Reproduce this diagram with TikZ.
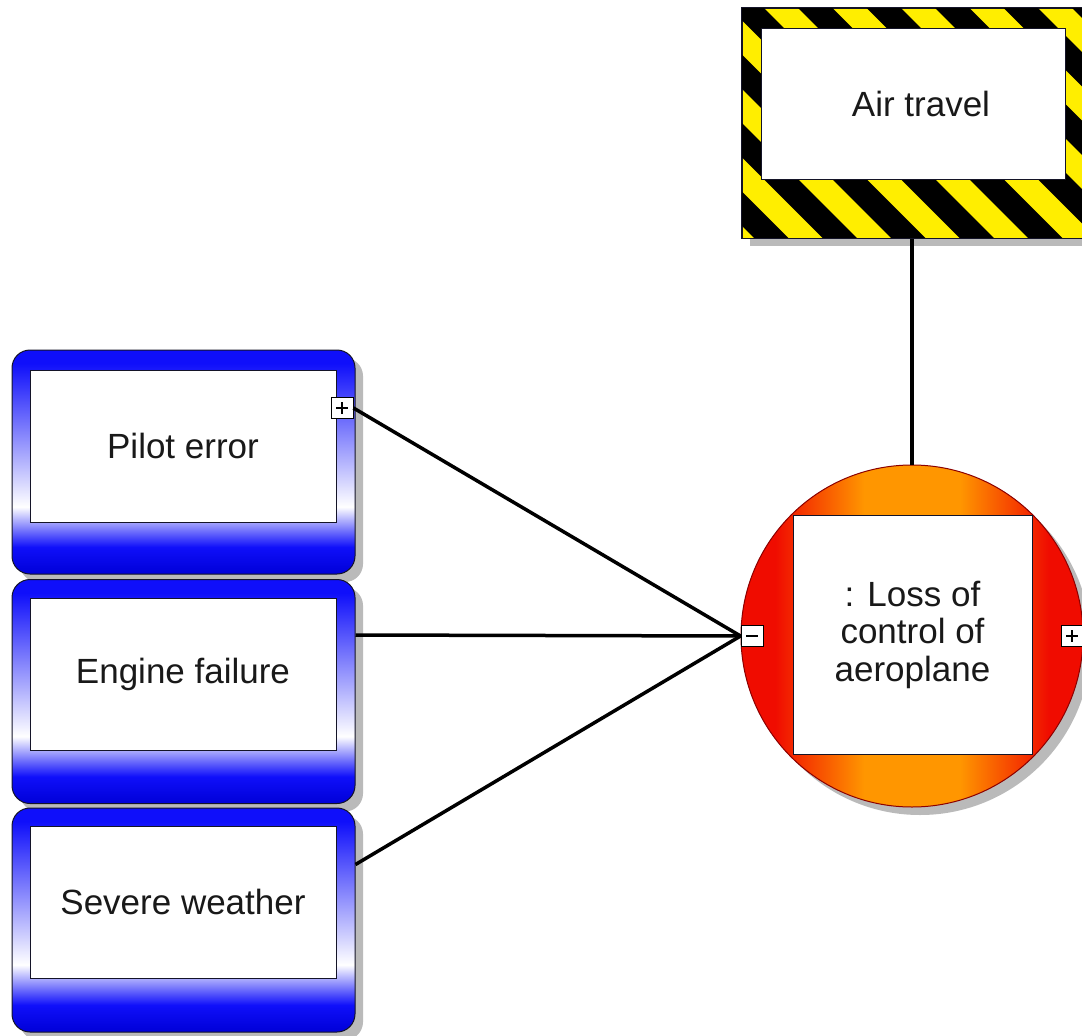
\documentclass[tikz,border=0pt]{standalone}
\usepackage{fontspec}
\setmainfont{Liberation Sans}
\usetikzlibrary{shadows,calc}

\definecolor{tblue}{RGB}{15,15,250}
\definecolor{tdark}{RGB}{0,0,215}
\definecolor{cred}{RGB}{240,12,0}
\definecolor{corange}{RGB}{255,150,0}
\definecolor{hyellow}{RGB}{255,238,0}
\definecolor{edge}{RGB}{20,20,40}

% blue threat frame: solid at the top, fading to white low on the sides
\pgfdeclareverticalshading{threatshade}{100bp}{color(0bp)=(tdark); color(25bp)=(tdark); color(31bp)=(tblue); color(40bp)=(white); color(72bp)=(tblue); color(100bp)=(tblue)}
% top event disc: red at the sides, orange in the middle
\pgfdeclarehorizontalshading{causeshade}{100bp}{color(0bp)=(cred); color(30bp)=(cred); color(43bp)=(corange); color(57bp)=(corange); color(70bp)=(cred); color(100bp)=(cred)}

\begin{document}
\begin{tikzpicture}[x=1pt,y=-1pt,
  shadowed/.style={drop shadow={shadow xshift=8pt,shadow yshift=-8pt,fill=black!27,opacity=1}},
  threat/.style={shadowed,rounded corners=18pt,shade,shading=threatshade,draw=edge,line width=1pt,
    minimum width=343pt,minimum height=224pt,inner sep=0pt},
  textbox/.style={draw=edge,fill=white,line width=0.9pt,inner sep=0pt,align=center,
    font=\fontsize{35}{37.5}\selectfont,text=black!90},
  marker/.style={draw=black,fill=white,line width=0.9pt,minimum width=22pt,minimum height=21pt,inner sep=0pt},
  link/.style={line width=3.5pt,black}]

\useasboundingbox (0,0) rectangle (1082,1036);
\fill[white] (0,0) rectangle (1082,1036);

% ---- threats ----
\node[threat] (pe) at (183.5,462) {};
\node[threat] (ef) at (183.5,691.5) {};
\node[threat] (sw) at (183.5,920) {};
\node[textbox,minimum width=306pt,minimum height=152pt] (pet) at (183,446) {Pilot error};
\node[textbox,minimum width=306pt,minimum height=152pt] (eft) at (183,674) {Engine failure};
\node[textbox,minimum width=306pt,minimum height=152pt] (swt) at (183,902) {Severe weather};
\node[marker] (pep) at (342,408) {};
\draw[line width=1.5pt] ($(pep.center)+(-6,0)$) -- ($(pep.center)+(6,0)$)
                        ($(pep.center)+(0,-6)$) -- ($(pep.center)+(0,6)$);
\coordinate (efo) at ($(ef.north east)+(0,56)$);
\coordinate (swo) at ($(sw.north east)+(0,57)$);

% ---- hazard ----
\node[shadowed,draw=edge,fill=hyellow,line width=1pt,minimum width=348pt,minimum height=230pt,inner sep=0pt] (hz) at (916,123) {};
\begin{scope}
  \clip (hz.north west) rectangle (hz.south east);
  \foreach \k in {-6,...,6}{
    \pgfmathsetmacro{\c}{790+68.5*\k}
    \fill[black] (\c,0) -- (\c+34.25,0) -- (\c+34.25+260,260) -- (\c+260,260) -- cycle;
  }
\end{scope}
\draw[edge,line width=1pt] (hz.north west) rectangle (hz.south east);
\node[textbox,minimum width=304pt,minimum height=151pt] (hzt) at (913,103.5) {\hspace*{16pt}Air travel};

% ---- top event ----
\node[shadowed,circle,minimum size=342pt,inner sep=0pt,shade,shading=causeshade,draw=red!55!black,line width=1pt] (ev) at (912,636) {};
\node[textbox,minimum width=239pt,minimum height=239pt] (evt) at (912.5,634.5) {: Loss of\\control of\\aeroplane};
\node[marker] (evm) at (752,636) {};
\draw[line width=1.5pt] ($(evm.center)+(-6,0)$) -- ($(evm.center)+(6,0)$);
\node[marker] (evp) at (1072,636) {};
\draw[line width=1.5pt] ($(evp.center)+(-6,0)$) -- ($(evp.center)+(6,0)$)
                        ($(evp.center)+(0,-6)$) -- ($(evp.center)+(0,6)$);

% ---- connectors ----
\draw[link] (pep.east) -- (evm.west);
\draw[link] (efo) -- (evm.west);
\draw[link] (swo) -- (evm.west);
\draw[link] (hz.south -| ev.north) -- (ev.north);
\end{tikzpicture}
\end{document}
